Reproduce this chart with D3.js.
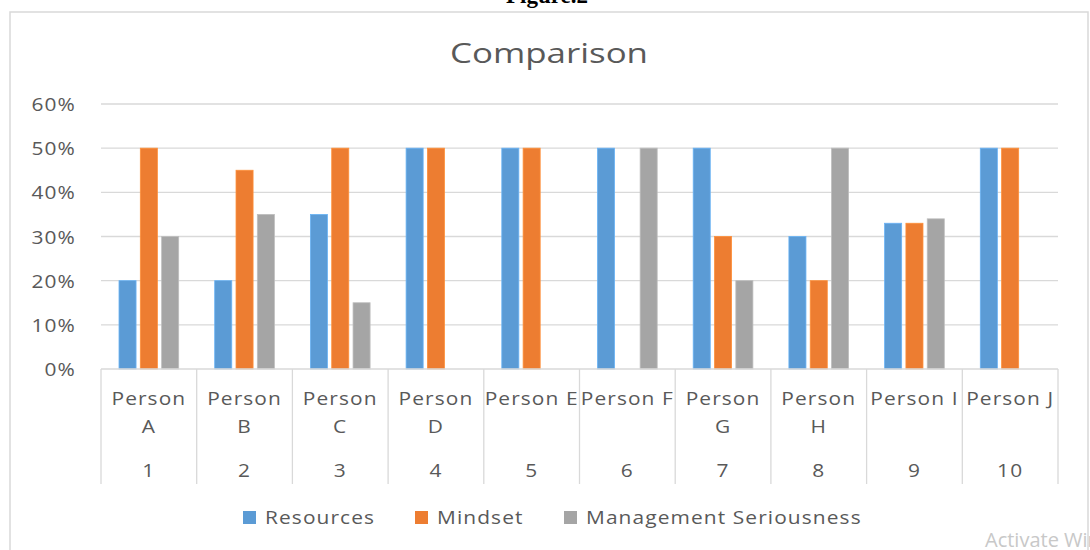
<!DOCTYPE html>
<html lang="en">

<head>
    <meta charset="UTF-8">
    <style>
        body { margin: 0; background: #fff; }
        text { font-family: "Open Sans", sans-serif; }
    </style>
</head>

<body>
    <script src="https://d3js.org/d3.v7.min.js"></script>
    <script>
        // data
        var groups = [1, 2, 3, 4, 5, 6, 7, 8, 9, 10]
        var groupLabels = [['Person', 'A'], ['Person', 'B'], ['Person', 'C'], ['Person', 'D'], ['Person E'],
            ['Person F'], ['Person', 'G'], ['Person', 'H'], ['Person I'], ['Person J']]
        var seriesNames = ['Resources', 'Mindset', 'Management Seriousness']
        var resources = [0.20, 0.20, 0.35, 0.50, 0.50, 0.50, 0.50, 0.30, 0.33, 0.50]
        var mindset = [0.50, 0.45, 0.50, 0.50, 0.50, 0, 0.30, 0.20, 0.33, 0.50]
        var seriousness = [0.30, 0.35, 0.15, 0, 0, 0.50, 0.20, 0.50, 0.34, 0]
        var yTicks = [0, 0.1, 0.2, 0.3, 0.4, 0.5, 0.6]
        var colors = ['#5B9BD5', '#ED7D31', '#A5A5A5']

        var svgWidth = 1090, svgHeight = 550
        var plotLeft = 101, plotRight = 1058, plotTop = 104, plotBottom = 369
        var stretch = 1.1   // the picture's text is a bit wider than normal

        var svg = d3.select('body').append('svg')
            .attr('width', svgWidth)
            .attr('height', svgHeight)

        // stretched gray label helper
        label = (parent, x, y, str, anchor) => {
            return parent.append('text')
                .attr('transform', 'translate(' + x + ',' + y + ') scale(' + stretch + ',1)')
                .attr('text-anchor', anchor || 'middle')
                .attr('fill', '#595959')
                .style('font-size', '19px')
                .attr('letter-spacing', '1px')
                .text(str)
        }

        // caption above chart (cut off in original)
        svg.append('text')
            .attr('x', 547).attr('y', 3)
            .attr('text-anchor', 'middle')
            .style('font-family', '"Liberation Serif", serif')
            .style('font-weight', 'bold')
            .style('font-size', '23px')
            .attr('fill', '#000')
            .text('Figure.2')

        // chart frame
        svg.append('rect')
            .attr('x', 10).attr('y', 12)
            .attr('width', 1078).attr('height', 560)
            .attr('fill', '#fff')
            .attr('stroke', '#D9D9D9')
            .attr('stroke-width', 1.5)

        svg.append('text')
            .attr('x', 549).attr('y', 63)
            .attr('text-anchor', 'middle')
            .attr('fill', '#595959')
            .style('font-size', '28px')
            .attr('textLength', 198).attr('lengthAdjust', 'spacingAndGlyphs')
            .text('Comparison')

        var x0 = d3.scaleBand()
            .domain(groups)
            .range([plotLeft, plotRight])
            .padding(0)
        var x1 = d3.scaleBand()
            .domain(seriesNames)
            .range([18, x0.bandwidth() - 18])
            .paddingInner(0.2)
        var yScale = d3.scaleLinear()
            .domain([0, 0.6])
            .range([plotBottom, plotTop])

        // gridlines
        svg.append('g')
            .selectAll('line')
            .data(yTicks.slice(1))
            .enter().append('line')
            .attr('x1', plotLeft).attr('x2', plotRight)
            .attr('y1', d => yScale(d)).attr('y2', d => yScale(d))
            .attr('stroke', '#D9D9D9')
            .attr('stroke-width', 1.3)

        var yAxis = d3.axisLeft(yScale)
            .tickValues(yTicks)
            .tickFormat(d3.format('.0%'))
            .tickSize(0)
            .tickPadding(0)
        var yg = svg.append('g')
            .attr('transform', 'translate(' + (plotLeft - 25) + ',0)')
            .call(yAxis)
        yg.select('.domain').remove()
        yg.selectAll('text')
            .attr('x', null).attr('dy', '0.35em')
            .attr('transform', 'scale(' + stretch + ',1)')
            .attr('fill', '#595959')
            .attr('letter-spacing', '1px')
            .style('font-size', '19px')
            .style('font-family', '"Open Sans", sans-serif')

        // bars
        var seriesValues = [resources, mindset, seriousness]
        seriesValues.forEach(function (vals, si) {
            svg.append('g')
                .selectAll('rect')
                .data(vals)
                .enter().append('rect')
                .attr('x', (d, i) => x0(groups[i]) + x1(seriesNames[si]))
                .attr('y', d => yScale(d))
                .attr('width', x1.bandwidth())
                .attr('height', d => plotBottom - yScale(d))
                .attr('fill', colors[si])
                .attr('stroke', d => d > 0 ? d3.color(colors[si]).brighter(0.4) : 'none')
                .attr('stroke-width', 0.8)
        })

        // category axis (two levels)
        svg.append('line')
            .attr('x1', plotLeft).attr('x2', plotRight)
            .attr('y1', plotBottom).attr('y2', plotBottom)
            .attr('stroke', '#D9D9D9').attr('stroke-width', 1.3)
        var edges = groups.map(g => x0(g)).concat([plotRight])
        svg.append('g')
            .selectAll('line')
            .data(edges)
            .enter().append('line')
            .attr('x1', d => d).attr('x2', d => d)
            .attr('y1', plotBottom).attr('y2', 484)
            .attr('stroke', '#D9D9D9').attr('stroke-width', 1.3)

        var xg = svg.append('g')
        groups.forEach(function (g, i) {
            var cx = x0(g) + x0.bandwidth() / 2
            groupLabels[i].forEach(function (line, li) {
                label(xg, cx, 405 + li * 28, line)
            })
            label(xg, cx, 477, g)
        })

        // legend
        var legendX = [243, 415, 564]
        var lg = svg.append('g')
        seriesNames.forEach(function (name, i) {
            lg.append('rect')
                .attr('x', legendX[i]).attr('y', 511)
                .attr('width', 13).attr('height', 13)
                .attr('fill', colors[i])
            label(lg, legendX[i] + 22, 524, name, 'start')
        })

        // watermark at bottom right
        svg.append('text')
            .attr('x', 985).attr('y', 547)
            .attr('fill', '#C8C8C8')
            .style('font-size', '20px')
            .text('Activate Windows')
    </script>
</body>

</html>
